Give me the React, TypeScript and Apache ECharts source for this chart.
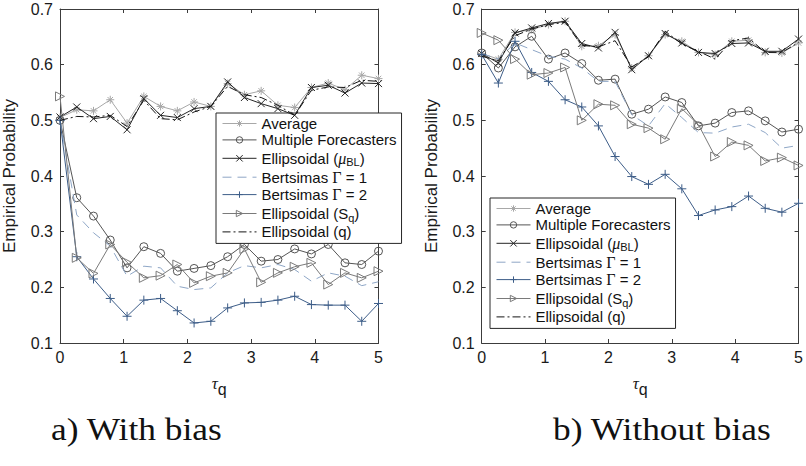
import React, { useEffect, useRef } from "react";
import * as echarts from "echarts";

const tau = [0, 0.263, 0.526, 0.789, 1.053, 1.316, 1.579, 1.842, 2.105, 2.368, 2.632, 2.895, 3.158, 3.421, 3.684, 3.947, 4.211, 4.474, 4.737, 5];
const xTicks = [0, 1, 2, 3, 4, 5];
const yTicks = [0.1, 0.2, 0.3, 0.4, 0.5, 0.6, 0.7];

const seriesNames = ["Average", "Multiple Forecasters", "Ellipsoidal (μBL)", "Bertsimas Γ = 1", "Bertsimas Γ = 2", "Ellipsoidal (Sq)", "Ellipsoidal (q)"];
const captions = ["a) With bias", "b) Without bias"];

// a) With bias
const avgA = [0.505, 0.519, 0.517, 0.537, 0.495, 0.543, 0.525, 0.517, 0.533, 0.525, 0.566, 0.546, 0.553, 0.527, 0.523, 0.559, 0.567, 0.555, 0.581, 0.575];
const mfA = [0.5, 0.361, 0.328, 0.285, 0.235, 0.273, 0.261, 0.229, 0.234, 0.239, 0.255, 0.277, 0.247, 0.25, 0.269, 0.26, 0.277, 0.244, 0.241, 0.265];
const muA = [0.506, 0.524, 0.503, 0.507, 0.483, 0.539, 0.509, 0.505, 0.521, 0.525, 0.569, 0.541, 0.53, 0.521, 0.509, 0.559, 0.563, 0.549, 0.567, 0.566];
const g1A = [0.5, 0.33, 0.298, 0.274, 0.22, 0.238, 0.235, 0.202, 0.196, 0.199, 0.226, 0.239, 0.235, 0.241, 0.232, 0.211, 0.226, 0.22, 0.203, 0.21];
const g2A = [0.5, 0.255, 0.215, 0.18, 0.148, 0.177, 0.18, 0.158, 0.136, 0.139, 0.163, 0.172, 0.173, 0.177, 0.184, 0.169, 0.168, 0.168, 0.139, 0.171];
const sqA = [0.543, 0.253, 0.225, 0.277, 0.245, 0.217, 0.221, 0.241, 0.208, 0.22, 0.226, 0.269, 0.209, 0.226, 0.237, 0.244, 0.205, 0.226, 0.217, 0.229];
const qA = [0.5, 0.507, 0.506, 0.509, 0.489, 0.536, 0.503, 0.501, 0.515, 0.525, 0.561, 0.546, 0.541, 0.527, 0.509, 0.554, 0.56, 0.559, 0.572, 0.57];

// b) Without bias
const avgB = [0.62, 0.61, 0.658, 0.663, 0.672, 0.678, 0.633, 0.634, 0.654, 0.594, 0.616, 0.654, 0.642, 0.622, 0.618, 0.642, 0.644, 0.622, 0.621, 0.639];
const mfB = [0.621, 0.594, 0.632, 0.651, 0.61, 0.621, 0.602, 0.572, 0.574, 0.511, 0.52, 0.542, 0.532, 0.49, 0.495, 0.514, 0.517, 0.499, 0.479, 0.484];
const muB = [0.62, 0.603, 0.657, 0.666, 0.674, 0.678, 0.638, 0.63, 0.658, 0.591, 0.616, 0.656, 0.639, 0.622, 0.62, 0.638, 0.639, 0.624, 0.624, 0.646];
const g1B = [0.62, 0.61, 0.639, 0.627, 0.615, 0.61, 0.594, 0.57, 0.57, 0.51, 0.49, 0.53, 0.505, 0.478, 0.477, 0.488, 0.493, 0.478, 0.45, 0.455];
const g2B = [0.618, 0.567, 0.642, 0.586, 0.57, 0.537, 0.524, 0.49, 0.435, 0.399, 0.385, 0.403, 0.377, 0.329, 0.339, 0.345, 0.364, 0.342, 0.335, 0.351];
const sqB = [0.657, 0.644, 0.61, 0.582, 0.585, 0.595, 0.5, 0.529, 0.527, 0.493, 0.486, 0.466, 0.521, 0.492, 0.435, 0.461, 0.455, 0.427, 0.433, 0.419];
const qB = [0.615, 0.607, 0.652, 0.664, 0.672, 0.676, 0.635, 0.632, 0.643, 0.596, 0.614, 0.66, 0.637, 0.624, 0.61, 0.643, 0.648, 0.622, 0.622, 0.64];

const panelA = [avgA, mfA, muA, g1A, g2A, sqA, qA];
const panelB = [avgB, mfB, muB, g1B, g2B, sqB, qB];

const SANS = "'Liberation Sans', Arial, Helvetica, sans-serif";
const SERIF = "'Liberation Serif', 'Times New Roman', serif";

const CIRCLE = "path://M10,5A5,5 0 1 1 0,5A5,5 0 1 1 10,5Z";
const styles = [
  { color: "#a8a8a8", symbol: "path://M5,0L5,10M0,5L10,5M1.6,1.6L8.4,8.4M1.6,8.4L8.4,1.6", size: 8, dash: "solid" as any },
  { color: "#555555", symbol: CIRCLE, size: 8, dash: "solid" as any },
  { color: "#262626", symbol: "path://M0,0L10,10M0,10L10,0", size: 7, dash: "solid" as any },
  { color: "#8ea6c6", symbol: "none", size: 0, dash: [9, 6] as any },
  { color: "#3d5d88", symbol: "path://M5,0L5,10M0,5L10,5", size: 9, dash: "solid" as any },
  { color: "#7a7a7a", symbol: "path://M0,0L10,5L0,10Z", size: 9, dash: "solid" as any },
  { color: "#151515", symbol: "none", size: 0, dash: [8, 3, 2, 3] as any },
];

const grids = [
  { left: 59, top: 9, width: 319.5, height: 334 },
  { left: 481.7, top: 9, width: 320, height: 334 },
];

function legendFormatter(name: string) {
  if (name === "Ellipsoidal (μBL)") return "{t|Ellipsoidal (}{m|μ}{s|BL}{t|)}";
  if (name === "Bertsimas Γ = 1") return "{t|Bertsimas }{G|Γ}{t| = 1}";
  if (name === "Bertsimas Γ = 2") return "{t|Bertsimas }{G|Γ}{t| = 2}";
  if (name === "Ellipsoidal (Sq)") return "{t|Ellipsoidal (S}{s|q}{t|)}";
  return "{t|" + name + "}";
}

const legendRich = {
  t: { fontSize: 15, lineHeight: 14, fontFamily: SANS, color: "#111" },
  m: { fontSize: 16, lineHeight: 14, fontFamily: SERIF, fontStyle: "italic", color: "#111" },
  G: { fontSize: 16, lineHeight: 14, fontFamily: SERIF, color: "#111" },
  s: { fontSize: 11, lineHeight: 11, fontFamily: SANS, color: "#111", padding: [8, 0, 0, 0] },
};

export default function App() {
  const ref = useRef<HTMLDivElement>(null);
  useEffect(() => {
    document.body.style.margin = "0";
    const chart = echarts.init(ref.current!, null, { renderer: "svg" });

    const axisLine = { show: true, onZero: false, lineStyle: { color: "#3c3c3c", width: 1 } };
    const axisTick = { show: true, inside: true, length: 4, lineStyle: { color: "#3c3c3c" } };
    const xAxes: any[] = [];
    const yAxes: any[] = [];
    grids.forEach((g, gi) => {
      const common = { type: "value", min: 0, max: 5, interval: 1, gridIndex: gi, splitLine: { show: false } };
      xAxes.push({
        ...common,
        position: "bottom",
        axisLine,
        axisTick,
        axisLabel: { color: "#1a1a1a", fontSize: 16, fontFamily: SANS, margin: 6, formatter: (v: number) => (xTicks.includes(v) ? String(v) : "") },
        name: "{t|τ}{s|q}",
        nameLocation: "middle",
        nameGap: 21,
        nameTextStyle: {
          rich: {
            t: { fontSize: 17, lineHeight: 16, fontFamily: SERIF, fontStyle: "italic", color: "#1a1a1a" },
            s: { fontSize: 16, lineHeight: 16, fontFamily: SANS, color: "#1a1a1a", padding: [12, 0, 0, 0] },
          },
        },
      });
      xAxes.push({ ...common, position: "top", axisLine, axisTick, axisLabel: { show: false } });
      const ycommon = { type: "value", min: 0.1, max: 0.7, interval: 0.1, gridIndex: gi, splitLine: { show: false } };
      yAxes.push({
        ...ycommon,
        position: "left",
        axisLine,
        axisTick,
        axisLabel: {
          color: "#1a1a1a", fontSize: 16, fontFamily: SANS, margin: 7,
          formatter: (v: number) => {
            const t = yTicks.find((k) => Math.abs(k - v) < 1e-6);
            return t === undefined ? "" : t.toFixed(1);
          },
        },
        name: "Empirical Probability",
        nameLocation: "middle",
        nameGap: 42,
        nameTextStyle: { fontSize: 17, fontFamily: SANS, color: "#1a1a1a" },
      });
      yAxes.push({ ...ycommon, position: "right", axisLine, axisTick, axisLabel: { show: false } });
    });

    const series: any[] = [];
    [panelA, panelB].forEach((panel, pi) => {
      panel.forEach((vals, si) => {
        const st = styles[si];
        const noSym = st.symbol === "none";
        series.push({
          type: "line",
          name: seriesNames[si],
          xAxisIndex: pi * 2,
          yAxisIndex: pi * 2,
          data: tau.map((t, k) => [t, vals[k]]),
          symbol: st.symbol,
          symbolSize: st.size,
          showSymbol: !noSym,
          lineStyle: { color: st.color, width: 1, type: st.dash },
          itemStyle: noSym
            ? { color: "rgba(0,0,0,0)", borderColor: "rgba(0,0,0,0)", borderWidth: 0 }
            : { color: "rgba(255,255,255,0)", borderColor: st.color, borderWidth: 1 },
          z: 2 + si,
          emphasis: { disabled: true },
        });
      });
    });

    const legendData = seriesNames.map((n, si) => {
      const st = styles[si];
      const noSym = st.symbol === "none";
      return {
        name: n,
        itemStyle: noSym
          ? { opacity: 0, color: "rgba(0,0,0,0)", borderWidth: 0 }
          : { color: "rgba(255,255,255,0)", borderColor: st.color, borderWidth: 1 },
        lineStyle: { color: st.color, width: 1, type: st.dash },
      };
    });

    const legendCommon = {
      orient: "vertical",
      data: legendData,
      backgroundColor: "#fff",
      borderColor: "#262626",
      borderWidth: 1,
      padding: [3, 5, 4, 6],
      itemWidth: 34,
      itemHeight: 8,
      itemGap: 1.4,
      formatter: legendFormatter,
      textStyle: { rich: legendRich, fontSize: 15, fontFamily: SANS, color: "#111" },
      selectedMode: false,
    };

    chart.setOption({
      animation: false,
      backgroundColor: "#fff",
      textStyle: { fontFamily: SANS },
      grid: grids,
      xAxis: xAxes,
      yAxis: yAxes,
      series,
      legend: [
        { ...legendCommon, left: 216, top: 113 },
        { ...legendCommon, left: 490, top: 198 },
      ],
      graphic: [
        { type: "text", x: 51, y: 414, scaleX: 1.14, style: { text: captions[0], font: "31px " + SERIF, fill: "#111", verticalAlign: "top" } },
        { type: "text", x: 553, y: 414, scaleX: 1.14, style: { text: captions[1], font: "31px " + SERIF, fill: "#111", verticalAlign: "top" } },
      ],
    });
    return () => chart.dispose();
  }, []);
  return <div ref={ref} style={{ width: 806, height: 466 }} />;
}
